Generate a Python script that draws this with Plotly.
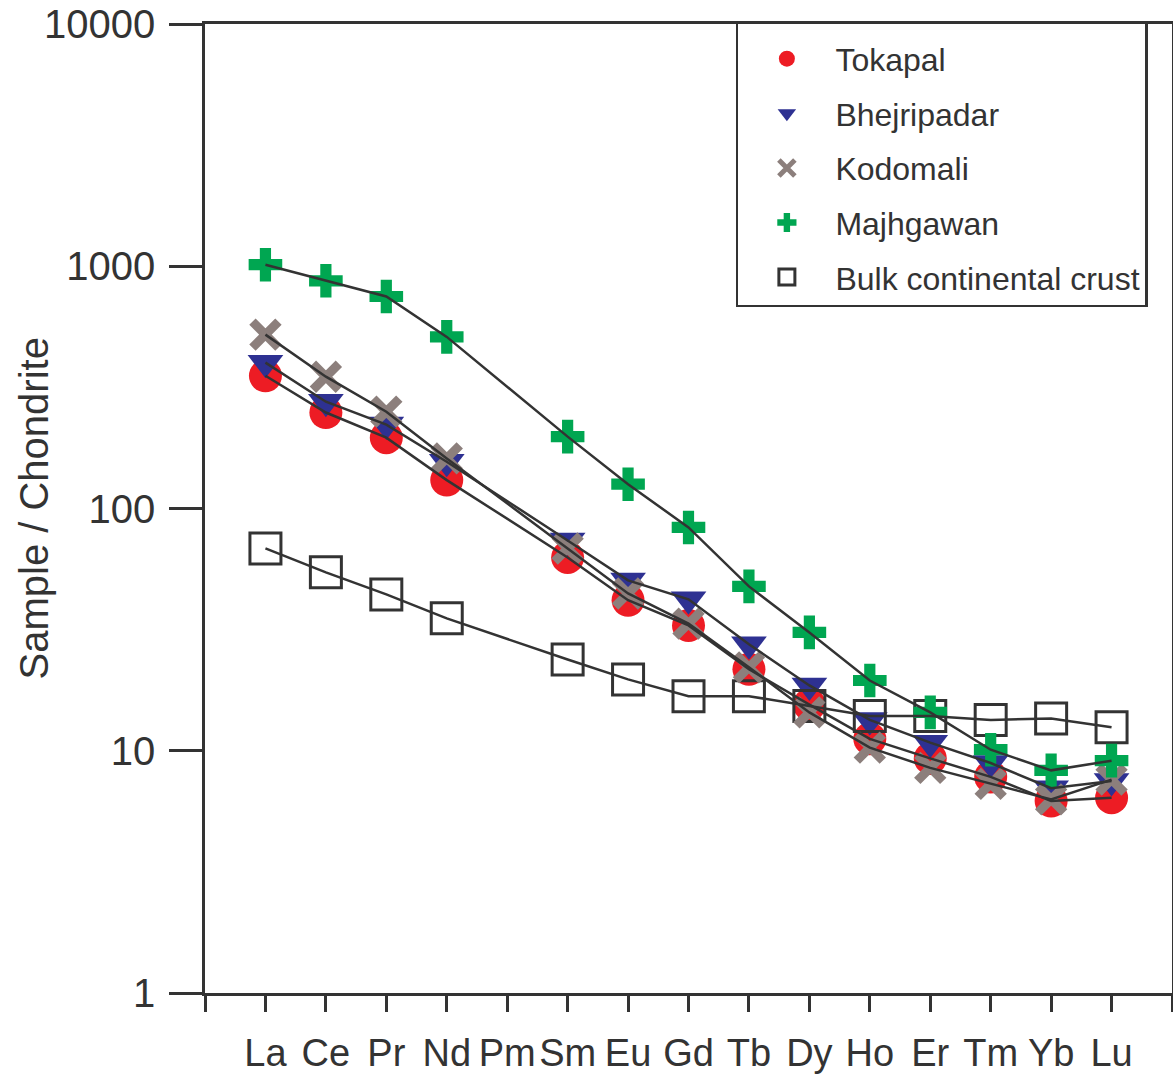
import plotly.graph_objects as go

ELEMENTS = ["La", "Ce", "Pr", "Nd", "Pm", "Sm", "Eu", "Gd", "Tb", "Dy", "Ho", "Er", "Tm", "Yb", "Lu"]

tokapal = [353, 249, 196, 131, None, 62.8, 41.8, 32.9, 21.7, 15.5, 11.2, 9.3, 7.8, 6.2, 6.4]
bhejripadar = [400, 276, 222, 156, None, 73.8, 50.5, 42.2, 27.5, 18.6, 13.4, 10.8, 8.9, 7.0, 7.5]
kodomali = [522, 350, 251, 161, None, 68.4, 44.6, 33.5, 22.1, 14.4, 10.3, 8.5, 7.3, 6.3, 7.6]
majhgawan = [1015, 871, 750, 511, None, 198, 126, 83.5, 47.7, 30.8, 19.5, 14.4, 10.1, 8.3, 9.1]
bulk_crust = [68.4, 54.5, 44.2, 35.2, None, 23.8, 19.7, 16.8, 16.8, 15.3, 13.9, 13.9, 13.4, 13.6, 12.5]

Y_TICKS = [1, 10, 100, 1000, 10000]
Y_TICK_TEXT = ["1", "10", "100", "1000", "10000"]
Y_TITLE = "Sample / Chondrite"

INK = "#333333"
FONT = "Liberation Sans, Arial, Helvetica, sans-serif"

x_pos = list(range(len(ELEMENTS)))

series = [
    # (name, values, marker dict, legend rank)
    ("Tokapal", tokapal, dict(symbol="circle", size=33, color="#ED1C24", line=dict(width=0)), 1),
    ("Bhejripadar", bhejripadar, dict(symbol="triangle-down", size=31, color="#2E3192", line=dict(width=0)), 2),
    ("Bulk continental crust", bulk_crust, dict(symbol="square-open", size=31, color=INK, line=dict(width=3, color=INK)), 5),
    ("Kodomali", kodomali, dict(symbol="x-thin", size=26, color="#8C7F7C", line=dict(width=9, color="#8C7F7C")), 3),
    ("Majhgawan", majhgawan, dict(symbol="cross", size=28, color="#00A651", line=dict(width=0)), 4),
]

fig = go.Figure()

# markers first
for name, vals, mk, rank in series:
    fig.add_trace(go.Scatter(
        x=x_pos, y=vals, mode="markers", name=name, marker=mk,
        legendrank=rank, legendgroup=name, showlegend=True,
    ))

# connecting lines drawn on top of markers
for name, vals, mk, rank in series:
    fig.add_trace(go.Scatter(
        x=x_pos, y=vals, mode="lines", name=name, connectgaps=True,
        line=dict(color=INK, width=2.5), showlegend=False, legendgroup=name,
        hoverinfo="skip",
    ))

fig.update_layout(
    width=1173, height=1079,
    margin=dict(l=205, r=1, t=24, b=86, autoexpand=False),
    paper_bgcolor="white", plot_bgcolor="white",
    font=dict(family=FONT, color=INK, size=40),
    showlegend=True,
    legend=dict(
        x=0.549, y=1.003, xanchor="left", yanchor="top",
        bgcolor="white", bordercolor=INK, borderwidth=2.5,
        font=dict(family=FONT, size=32, color=INK),
        tracegroupgap=10, itemsizing="trace", itemwidth=87,
        title=dict(text=" ", font=dict(size=6)),
    ),
    annotations=[dict(
        text=Y_TITLE, xref="paper", yref="paper", x=0, y=0.5,
        xanchor="center", yanchor="middle", xshift=-172, textangle=-90,
        showarrow=False, font=dict(family=FONT, size=40, color=INK),
    )],
)

fig.update_xaxes(
    range=[-1, 15],
    tickmode="array",
    tickvals=list(range(-1, len(ELEMENTS) + 1)),
    ticktext=[""] + ELEMENTS + [""],
    tickangle=0, automargin=False,
    ticks="outside", ticklen=16, tickwidth=2.5, tickcolor=INK,
    showline=True, linecolor=INK, linewidth=2.5, mirror=True,
    showgrid=False, zeroline=False,
    tickfont=dict(family=FONT, size=38, color=INK),
    ticklabelstandoff=9,
)

fig.update_yaxes(
    type="log", range=[0, 4],
    tickmode="array", tickvals=Y_TICKS, ticktext=Y_TICK_TEXT,
    automargin=False,
    ticks="outside", ticklen=33, tickwidth=2.5, tickcolor=INK,
    showline=True, linecolor=INK, linewidth=2.5, mirror=True,
    showgrid=False, zeroline=False,
    tickfont=dict(family=FONT, size=40, color=INK),
    ticklabelstandoff=6,
)

fig.write_html("out.html")
